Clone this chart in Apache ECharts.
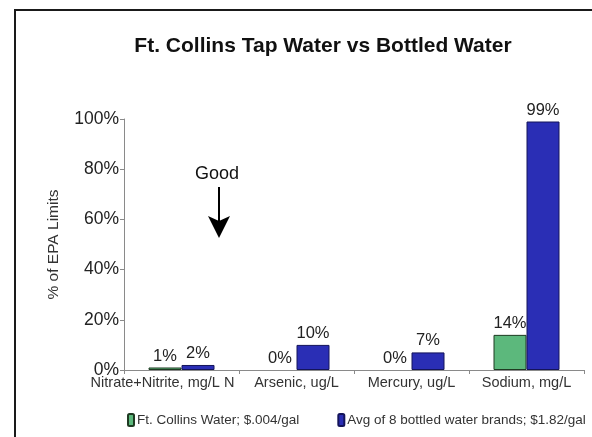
<!DOCTYPE html>
<html>
<head>
<meta charset="utf-8">
<script src="https://cdn.jsdelivr.net/npm/echarts@6/dist/echarts.min.js"></script>
<style>
  html, body { margin: 0; padding: 0; background: #ffffff; }
  #chart { width: 592px; height: 437px; }
</style>
</head>
<body>
<div id="chart"></div>
<script>
// Contaminant categories and % of EPA limit for each water source
const categories = ['Nitrate+Nitrite, mg/L N', 'Arsenic, ug/L', 'Mercury, ug/L', 'Sodium, mg/L'];
const tapValues = [1, 0, 0, 14];
const bottledValues = [2, 10, 7, 99];
const seriesNames = ['Ft. Collins Water; $.004/gal', 'Avg of 8 bottled water brands; $1.82/gal'];
const yTicks = [0, 20, 40, 60, 80, 100];

const FONT = 'Liberation Sans, Arial, sans-serif';
const TEXT = '#222222';
const chart = echarts.init(document.getElementById('chart'), null, { renderer: 'canvas' });

const labelStyle = {
  show: true,
  position: 'top',
  distance: 3,
  formatter: '{c}%',
  color: TEXT,
  fontFamily: FONT,
  fontSize: 16.5
};

// zero-height bars get no outline so they stay invisible
const barData = values => values.map(v => v === 0 ? { value: v, itemStyle: { borderWidth: 0 } } : v);

chart.setOption({
  animation: false,
  backgroundColor: '#ffffff',
  title: {
    text: 'Ft. Collins Tap Water vs Bottled Water',
    left: 318,
    textAlign: 'center',
    top: 31,
    textStyle: { fontFamily: FONT, fontSize: 21, fontWeight: 'bold', color: '#111111' }
  },
  legend: {
    data: seriesNames,
    bottom: 5,
    left: 122,
    itemWidth: 6,
    itemHeight: 12,
    itemGap: 38,
    textStyle: { fontFamily: FONT, fontSize: 13.5, color: '#333333', padding: [0, 0, 0, -2] }
  },
  grid: { left: 124, right: 8, top: 119, bottom: 67, containLabel: false },
  xAxis: {
    type: 'category',
    data: categories.map((c, i) => i === 0
      ? { value: c, textStyle: { padding: [0, 38, 0, 0] } }
      : { value: c }),
    axisLine: { lineStyle: { color: '#8a8a8a', width: 1 } },
    axisTick: { show: true, length: 4, lineStyle: { color: '#8a8a8a' } },
    axisLabel: {
      interval: 0,
      margin: 5,
      fontFamily: FONT,
      fontSize: 14.5,
      color: '#333333',
      overflow: 'none'
    }
  },
  yAxis: {
    type: 'value',
    min: yTicks[0],
    max: yTicks[yTicks.length - 1],
    interval: 20,
    name: '% of EPA Limits',
    nameLocation: 'middle',
    nameRotate: 90,
    nameGap: 62,
    nameTextStyle: { fontFamily: FONT, fontSize: 15.5, color: '#333333' },
    axisLine: { show: true, lineStyle: { color: '#8a8a8a', width: 1 } },
    axisTick: { show: true, length: 4, lineStyle: { color: '#8a8a8a' } },
    splitLine: { show: false },
    axisLabel: {
      margin: 5,
      fontFamily: FONT,
      fontSize: 17.5,
      color: TEXT,
      formatter: v => v + '%'
    }
  },
  series: [
    {
      name: seriesNames[0],
      type: 'bar',
      data: barData(tapValues),
      barWidth: 33,
      barGap: '0%',
      itemStyle: { color: '#5cb87c', borderColor: '#1f3a22', borderWidth: 1 },
      label: labelStyle
    },
    {
      name: seriesNames[1],
      type: 'bar',
      data: barData(bottledValues),
      barWidth: 33,
      barGap: '0%',
      itemStyle: { color: '#2a2eb5', borderColor: '#14145a', borderWidth: 1 },
      label: labelStyle
    }
  ],
  graphic: [
    // outer frame of the slide panel
    {
      type: 'rect',
      shape: { x: 15, y: 10, width: 620, height: 480 },
      style: { fill: 'none', stroke: '#1a1a1a', lineWidth: 2 },
      silent: true,
      z: 100
    },
    // "Good" annotation with downward arrow
    {
      type: 'text',
      left: 195,
      top: 165,
      style: { text: 'Good', font: '18px ' + FONT, fill: '#111111' }
    },
    {
      type: 'line',
      shape: { x1: 219, y1: 187, x2: 219, y2: 222 },
      style: { stroke: '#000000', lineWidth: 2 }
    },
    {
      type: 'polygon',
      shape: { points: [[208, 216], [219, 221], [230, 216], [219, 238]] },
      style: { fill: '#000000' }
    }
  ]
});
</script>
</body>
</html>
